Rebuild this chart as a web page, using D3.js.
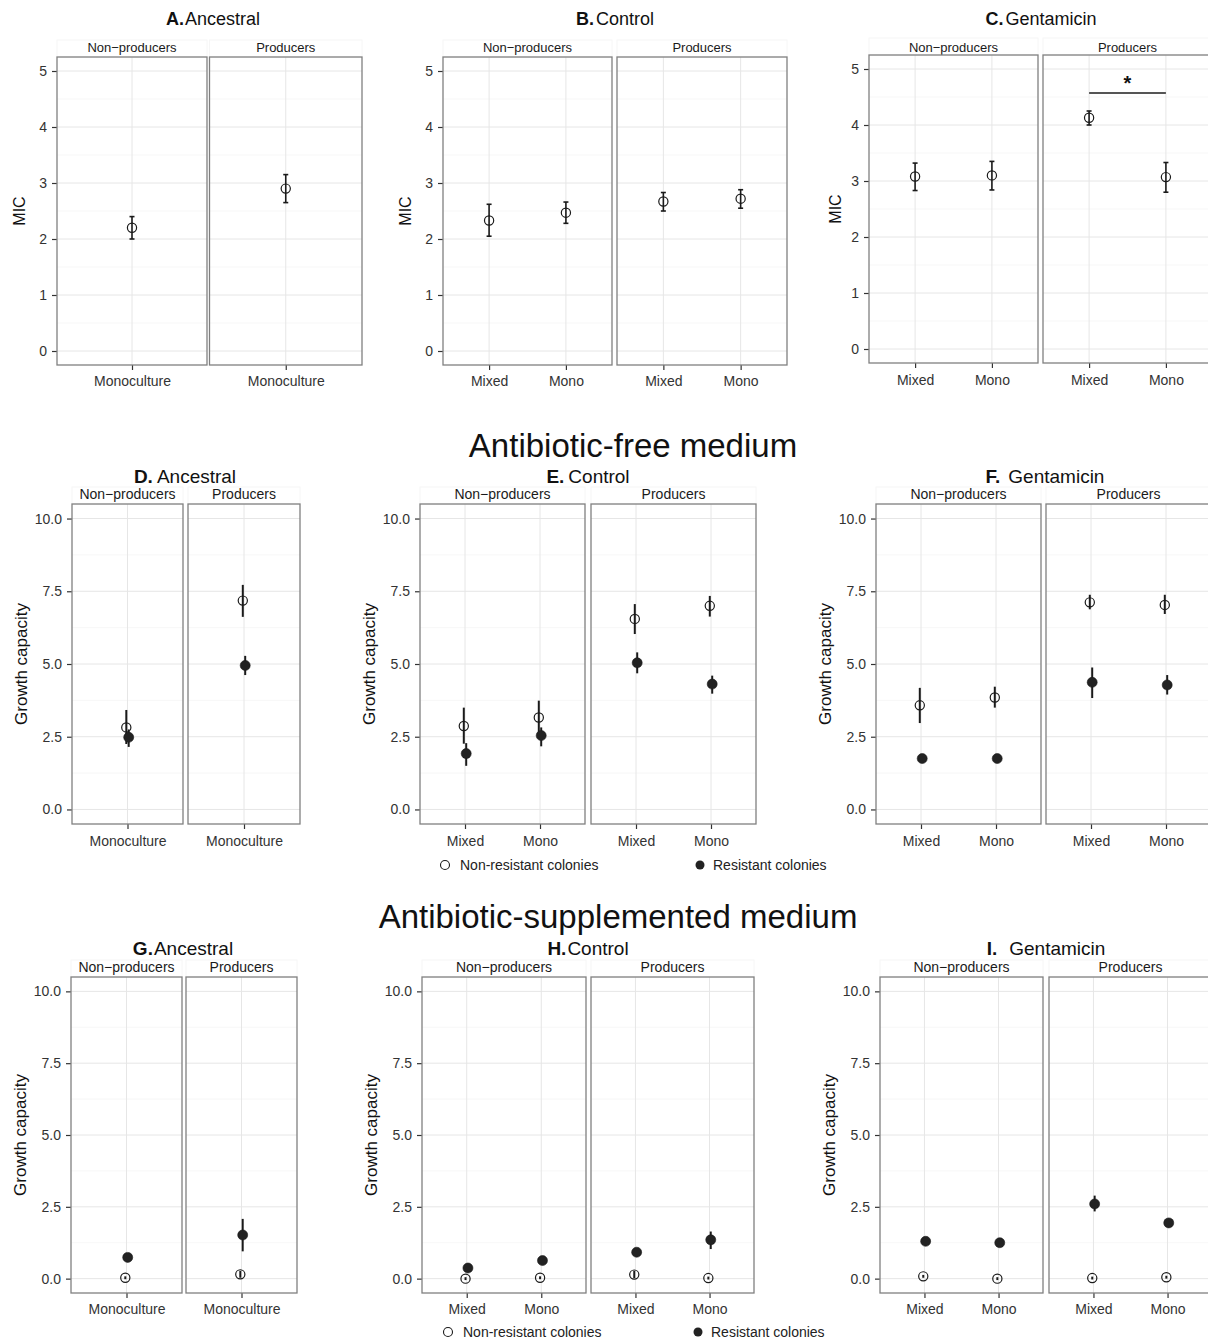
<!DOCTYPE html>
<html><head><meta charset="utf-8">
<script src="https://cdn.jsdelivr.net/npm/d3@7"></script>
<style>
body{margin:0;background:#fff;}
svg{display:block;font-family:"Liberation Sans",Arial,Helvetica,sans-serif;}
</style>
</head><body><svg id="chart" width="1208" height="1343"></svg>
<script>
// ---------------- DATA ----------------
const facets = ["Non-producers", "Producers"];
const ancestralTreatments = ["Monoculture"];
const evolvedTreatments = ["Mixed", "Mono"];
const colonyTypes = ["Non-resistant colonies", "Resistant colonies"];
const micTicks = [0, 1, 2, 3, 4, 5];
const growthTicks = [0, 2.5, 5, 7.5, 10];
const sectionTitles = ["Antibiotic-free medium", "Antibiotic-supplemented medium"];
const micTitles = [["A.", "Ancestral"], ["B.", "Control"], ["C.", "Gentamicin"]];
const freeTitles = [["D.", "Ancestral"], ["E.", "Control"], ["F.", "Gentamicin"]];
const suppTitles = [["G.", "Ancestral"], ["H.", "Control"], ["I.", "Gentamicin"]];

// MIC rows: [facet, treatment, mean, lower, upper]
const micAncestral = [
  ["Non-producers", "Monoculture", 2.2, 2.0, 2.4],
  ["Producers", "Monoculture", 2.9, 2.65, 3.15]
];
const micControl = [
  ["Non-producers", "Mixed", 2.33, 2.05, 2.62],
  ["Non-producers", "Mono", 2.47, 2.28, 2.66],
  ["Producers", "Mixed", 2.67, 2.5, 2.83],
  ["Producers", "Mono", 2.72, 2.55, 2.88]
];
const micGentamicin = [
  ["Non-producers", "Mixed", 3.08, 2.83, 3.32],
  ["Non-producers", "Mono", 3.1, 2.84, 3.35],
  ["Producers", "Mixed", 4.13, 4.0, 4.25],
  ["Producers", "Mono", 3.07, 2.8, 3.33]
];
// significance bracket: [facet, from, to, level, label]
const micSignificance = ["Producers", "Mixed", "Mono", 4.57, "*"];

// Growth rows: [facet, treatment, colony, mean, lower, upper]
const freeAncestral = [
  ["Non-producers", "Monoculture", "Non-resistant colonies", 2.82, 2.25, 3.42],
  ["Non-producers", "Monoculture", "Resistant colonies", 2.48, 2.15, 2.75],
  ["Producers", "Monoculture", "Non-resistant colonies", 7.18, 6.62, 7.72],
  ["Producers", "Monoculture", "Resistant colonies", 4.95, 4.62, 5.28]
];
const freeControl = [
  ["Non-producers", "Mixed", "Non-resistant colonies", 2.87, 2.26, 3.5],
  ["Non-producers", "Mixed", "Resistant colonies", 1.92, 1.5, 2.28],
  ["Non-producers", "Mono", "Non-resistant colonies", 3.16, 2.6, 3.74],
  ["Non-producers", "Mono", "Resistant colonies", 2.54, 2.17, 2.82],
  ["Producers", "Mixed", "Non-resistant colonies", 6.55, 6.03, 7.06],
  ["Producers", "Mixed", "Resistant colonies", 5.04, 4.68, 5.4],
  ["Producers", "Mono", "Non-resistant colonies", 7.0, 6.63, 7.34],
  ["Producers", "Mono", "Resistant colonies", 4.31, 3.98, 4.6]
];
const freeGentamicin = [
  ["Non-producers", "Mixed", "Non-resistant colonies", 3.58, 2.97, 4.18],
  ["Non-producers", "Mixed", "Resistant colonies", 1.75, 1.63, 1.87],
  ["Non-producers", "Mono", "Non-resistant colonies", 3.85, 3.5, 4.22],
  ["Non-producers", "Mono", "Resistant colonies", 1.75, 1.7, 1.82],
  ["Producers", "Mixed", "Non-resistant colonies", 7.12, 6.88, 7.38],
  ["Producers", "Mixed", "Resistant colonies", 4.37, 3.83, 4.88],
  ["Producers", "Mono", "Non-resistant colonies", 7.03, 6.72, 7.38],
  ["Producers", "Mono", "Resistant colonies", 4.28, 3.95, 4.62]
];
const suppAncestral = [
  ["Non-producers", "Monoculture", "Non-resistant colonies", 0.03, -0.02, 0.08],
  ["Non-producers", "Monoculture", "Resistant colonies", 0.74, 0.68, 0.8],
  ["Producers", "Monoculture", "Non-resistant colonies", 0.15, 0.03, 0.27],
  ["Producers", "Monoculture", "Resistant colonies", 1.52, 0.95, 2.08]
];
const suppControl = [
  ["Non-producers", "Mixed", "Non-resistant colonies", 0.0, -0.05, 0.05],
  ["Non-producers", "Mixed", "Resistant colonies", 0.37, 0.3, 0.44],
  ["Non-producers", "Mono", "Non-resistant colonies", 0.03, -0.02, 0.08],
  ["Non-producers", "Mono", "Resistant colonies", 0.63, 0.56, 0.7],
  ["Producers", "Mixed", "Non-resistant colonies", 0.14, 0.02, 0.27],
  ["Producers", "Mixed", "Resistant colonies", 0.92, 0.86, 0.98],
  ["Producers", "Mono", "Non-resistant colonies", 0.02, -0.03, 0.07],
  ["Producers", "Mono", "Resistant colonies", 1.35, 1.03, 1.64]
];
const suppGentamicin = [
  ["Non-producers", "Mixed", "Non-resistant colonies", 0.08, 0.03, 0.13],
  ["Non-producers", "Mixed", "Resistant colonies", 1.3, 1.24, 1.36],
  ["Non-producers", "Mono", "Non-resistant colonies", 0.0, -0.05, 0.05],
  ["Non-producers", "Mono", "Resistant colonies", 1.25, 1.19, 1.31],
  ["Producers", "Mixed", "Non-resistant colonies", 0.02, -0.03, 0.07],
  ["Producers", "Mixed", "Resistant colonies", 2.6, 2.34, 2.89],
  ["Producers", "Mono", "Non-resistant colonies", 0.05, 0.0, 0.1],
  ["Producers", "Mono", "Resistant colonies", 1.94, 1.87, 2.01]
];

// ---------------- LAYOUT ----------------
const svg = d3.select("#chart");
const INK = "#1a1a1a";
const AXT = "#333333";

function drawPanel(p) {
  const g = svg.append("g");
  const y = d3.scaleLinear().domain(p.yDomain).range([p.bottom, p.top]);
  const minor = [];
  for (let i = 0; i < p.ticks.length - 1; i++) minor.push((p.ticks[i] + p.ticks[i + 1]) / 2);

  // title
  const tt = g.append("text").attr("x", p.titleX).attr("y", p.titleY)
    .attr("text-anchor", "middle").attr("font-size", p.titleSize).attr("fill", "#111");
  tt.append("tspan").attr("font-weight", "bold").text(p.title[0]);
  tt.append("tspan").attr("dx", p.titleGap).text(p.title[1]);

  const xs = [];
  facets.forEach((f, fi) => {
    const [x0, x1] = p.boxes[fi];
    const x = d3.scalePoint().domain(p.treatments).range([x0, x1]).padding(0.6);
    xs.push(x);
    // strip
    g.append("rect").attr("x", x0).attr("y", p.top - p.stripH).attr("width", x1 - x0).attr("height", p.stripH)
      .attr("fill", "#fff").attr("stroke", "#f6f6f6").attr("stroke-width", 1);
    g.append("text").attr("x", (x0 + x1) / 2).attr("y", p.stripY).attr("text-anchor", "middle")
      .attr("font-size", p.stripSize).attr("fill", "#1a1a1a").text(f.replace("-", "\u2212"));
    // grid
    g.append("g").selectAll("line").data(minor).join("line")
      .attr("x1", x0).attr("x2", x1).attr("y1", d => y(d)).attr("y2", d => y(d))
      .attr("stroke", "#f2f2f2").attr("stroke-width", 0.6);
    g.append("g").selectAll("line").data(p.ticks).join("line")
      .attr("x1", x0).attr("x2", x1).attr("y1", d => y(d)).attr("y2", d => y(d))
      .attr("stroke", "#e6e6e6").attr("stroke-width", 1);
    g.append("g").selectAll("line").data(p.treatments).join("line")
      .attr("x1", d => x(d)).attr("x2", d => x(d)).attr("y1", p.top).attr("y2", p.bottom)
      .attr("stroke", "#e6e6e6").attr("stroke-width", 1);
    // x axis
    const ax = g.append("g").attr("transform", `translate(0,${p.bottom})`)
      .call(d3.axisBottom(x).tickSizeOuter(0).tickSize(5).tickPadding(6));
    ax.select(".domain").remove();
    ax.selectAll("line").attr("stroke", AXT).attr("stroke-width", 1.2);
    ax.selectAll("text").attr("font-size", p.tickSize).attr("fill", AXT)
      .attr("font-family", "Liberation Sans, Arial, sans-serif").attr("dy", null).attr("y", p.xLabY - p.bottom);
  });

  // y axis
  const ay = g.append("g").attr("transform", `translate(${p.boxes[0][0]},0)`)
    .call(d3.axisLeft(y).tickValues(p.ticks).tickFormat(p.fmt).tickSizeOuter(0).tickSize(5).tickPadding(5));
  ay.select(".domain").remove();
  ay.selectAll("line").attr("stroke", AXT).attr("stroke-width", 1.2);
  ay.selectAll("text").attr("font-size", p.tickSize).attr("fill", AXT)
    .attr("font-family", "Liberation Sans, Arial, sans-serif");
  g.append("text").attr("transform", `translate(${p.yLabX},${(p.top + p.bottom) / 2}) rotate(-90)`)
    .attr("text-anchor", "middle").attr("font-size", p.yLabSize).attr("fill", "#111").text(p.yLab);

  // data
  const fx = (f, t) => xs[facets.indexOf(f)](t);
  if (p.kind === "mic") {
    const rows = p.data;
    g.append("g").selectAll("line").data(rows).join("line")
      .attr("x1", d => fx(d[0], d[1])).attr("x2", d => fx(d[0], d[1]))
      .attr("y1", d => y(d[3])).attr("y2", d => y(d[4])).attr("stroke", INK).attr("stroke-width", 1.6);
    [3, 4].forEach(k => {
      g.append("g").selectAll("line").data(rows).join("line")
        .attr("x1", d => fx(d[0], d[1]) - 2.5).attr("x2", d => fx(d[0], d[1]) + 2.5)
        .attr("y1", d => y(d[k])).attr("y2", d => y(d[k])).attr("stroke", INK).attr("stroke-width", 1.6);
    });
    g.append("g").selectAll("circle").data(rows).join("circle")
      .attr("cx", d => fx(d[0], d[1])).attr("cy", d => y(d[2])).attr("r", 4.6)
      .attr("fill", "none").attr("stroke", INK).attr("stroke-width", 1.2);
    if (p.sig) {
      const s = p.sig;
      const xa = fx(s[0], s[1]), xb = fx(s[0], s[2]);
      g.append("line").attr("x1", xa).attr("x2", xb).attr("y1", y(s[3])).attr("y2", y(s[3]))
        .attr("stroke", "#555").attr("stroke-width", 2);
      g.append("text").attr("x", (xa + xb) / 2).attr("y", y(s[3]) - 3).attr("text-anchor", "middle")
        .attr("font-size", 20).attr("font-weight", "bold").attr("fill", "#111").text(s[4]);
    }
  } else {
    const rows = p.data;
    const off = c => (c === colonyTypes[0] ? -1.2 : 1.2);
    g.append("g").selectAll("line").data(rows).join("line")
      .attr("x1", d => fx(d[0], d[1]) + off(d[2])).attr("x2", d => fx(d[0], d[1]) + off(d[2]))
      .attr("y1", d => y(d[4])).attr("y2", d => y(d[5])).attr("stroke", INK).attr("stroke-width", 2);
    g.append("g").selectAll("circle").data(rows).join("circle")
      .attr("cx", d => fx(d[0], d[1]) + off(d[2])).attr("cy", d => y(d[3]))
      .attr("r", d => d[2] === colonyTypes[0] ? 4.6 : 5)
      .attr("fill", d => d[2] === colonyTypes[0] ? "none" : "#222")
      .attr("stroke", INK).attr("stroke-width", d => d[2] === colonyTypes[0] ? 1.2 : 0.6);
  }
  // panel borders on top
  facets.forEach((f, fi) => {
    const [x0, x1] = p.boxes[fi];
    g.append("rect").attr("x", x0).attr("y", p.top).attr("width", x1 - x0).attr("height", p.bottom - p.top)
      .attr("fill", "none").attr("stroke", "#808080").attr("stroke-width", 1.3);
  });
}

function legend(yc, xOpen, xFilled) {
  const g = svg.append("g");
  g.append("circle").attr("cx", xOpen).attr("cy", yc).attr("r", 4.5).attr("fill", "none").attr("stroke", INK).attr("stroke-width", 1.1);
  g.append("text").attr("x", xOpen + 15).attr("y", yc + 5).attr("font-size", 14).attr("fill", "#222").text(colonyTypes[0]);
  g.append("circle").attr("cx", xFilled).attr("cy", yc).attr("r", 4.5).attr("fill", "#222");
  g.append("text").attr("x", xFilled + 13).attr("y", yc + 5).attr("font-size", 14).attr("fill", "#222").text(colonyTypes[1]);
}

const micBase = { kind: "mic", yDomain: [-0.25, 5.25], ticks: micTicks, fmt: d3.format("d"),
  titleY: 25, titleSize: 18, titleGap: 2, stripY: 52, stripH: 17, stripSize: 13, tickSize: 14, yLab: "MIC", yLabSize: 16 };
const grBase = { kind: "growth", yDomain: [-0.5, 10.5], ticks: growthTicks, fmt: d3.format(".1f"),
  titleSize: 19, titleGap: 4, stripH: 17, stripSize: 14, tickSize: 14, yLab: "Growth capacity", yLabSize: 17 };

const panels = [
  Object.assign({}, micBase, { title: micTitles[0], titleX: 213, titleGap: 1, boxes: [[57, 207], [209.5, 362]], top: 57, bottom: 365, xLabY: 386, yLabX: 25, treatments: ancestralTreatments, data: micAncestral }),
  Object.assign({}, micBase, { title: micTitles[1], titleX: 615, boxes: [[443, 612], [617, 787]], top: 57, bottom: 365, xLabY: 386, yLabX: 411, treatments: evolvedTreatments, data: micControl }),
  Object.assign({}, micBase, { title: micTitles[2], titleX: 1041, boxes: [[869, 1038], [1043, 1212]], top: 55, bottom: 363, xLabY: 385, yLabX: 841, treatments: evolvedTreatments, data: micGentamicin, sig: micSignificance }),

  Object.assign({}, grBase, { title: freeTitles[0], titleX: 185, titleY: 483, stripY: 499, boxes: [[72, 183], [188, 300]], top: 504, bottom: 824, xLabY: 846, yLabX: 27, treatments: ancestralTreatments, data: freeAncestral }),
  Object.assign({}, grBase, { title: freeTitles[1], titleX: 588, titleY: 483, stripY: 499, boxes: [[420, 585], [591, 756]], top: 504, bottom: 824, xLabY: 846, yLabX: 375, treatments: evolvedTreatments, data: freeControl }),
  Object.assign({}, grBase, { title: freeTitles[2], titleX: 1045, titleY: 483, titleGap: 8, stripY: 499, boxes: [[876, 1041], [1046, 1211]], top: 504, bottom: 824, xLabY: 846, yLabX: 831, treatments: evolvedTreatments, data: freeGentamicin }),

  Object.assign({}, grBase, { title: suppTitles[0], titleX: 183, titleY: 955, titleGap: 1, stripY: 972, boxes: [[71, 182], [186, 297]], top: 977, bottom: 1293, xLabY: 1314, yLabX: 26, treatments: ancestralTreatments, data: suppAncestral }),
  Object.assign({}, grBase, { title: suppTitles[1], titleX: 588, titleY: 955, titleGap: 1, stripY: 972, boxes: [[422, 586], [591, 754]], top: 977, bottom: 1293, xLabY: 1314, yLabX: 377, treatments: evolvedTreatments, data: suppControl }),
  Object.assign({}, grBase, { title: suppTitles[2], titleX: 1046, titleY: 955, titleGap: 12, stripY: 972, boxes: [[880, 1043], [1049, 1212]], top: 977, bottom: 1293, xLabY: 1314, yLabX: 835, treatments: evolvedTreatments, data: suppGentamicin })
];
panels.forEach(drawPanel);

svg.append("text").attr("x", 633).attr("y", 457).attr("text-anchor", "middle").attr("font-size", 33).attr("fill", "#111").text(sectionTitles[0]);
svg.append("text").attr("x", 618).attr("y", 928).attr("text-anchor", "middle").attr("font-size", 33).attr("fill", "#111").text(sectionTitles[1]);
legend(865, 445, 700);
legend(1332, 448, 698);
</script>
</body></html>
